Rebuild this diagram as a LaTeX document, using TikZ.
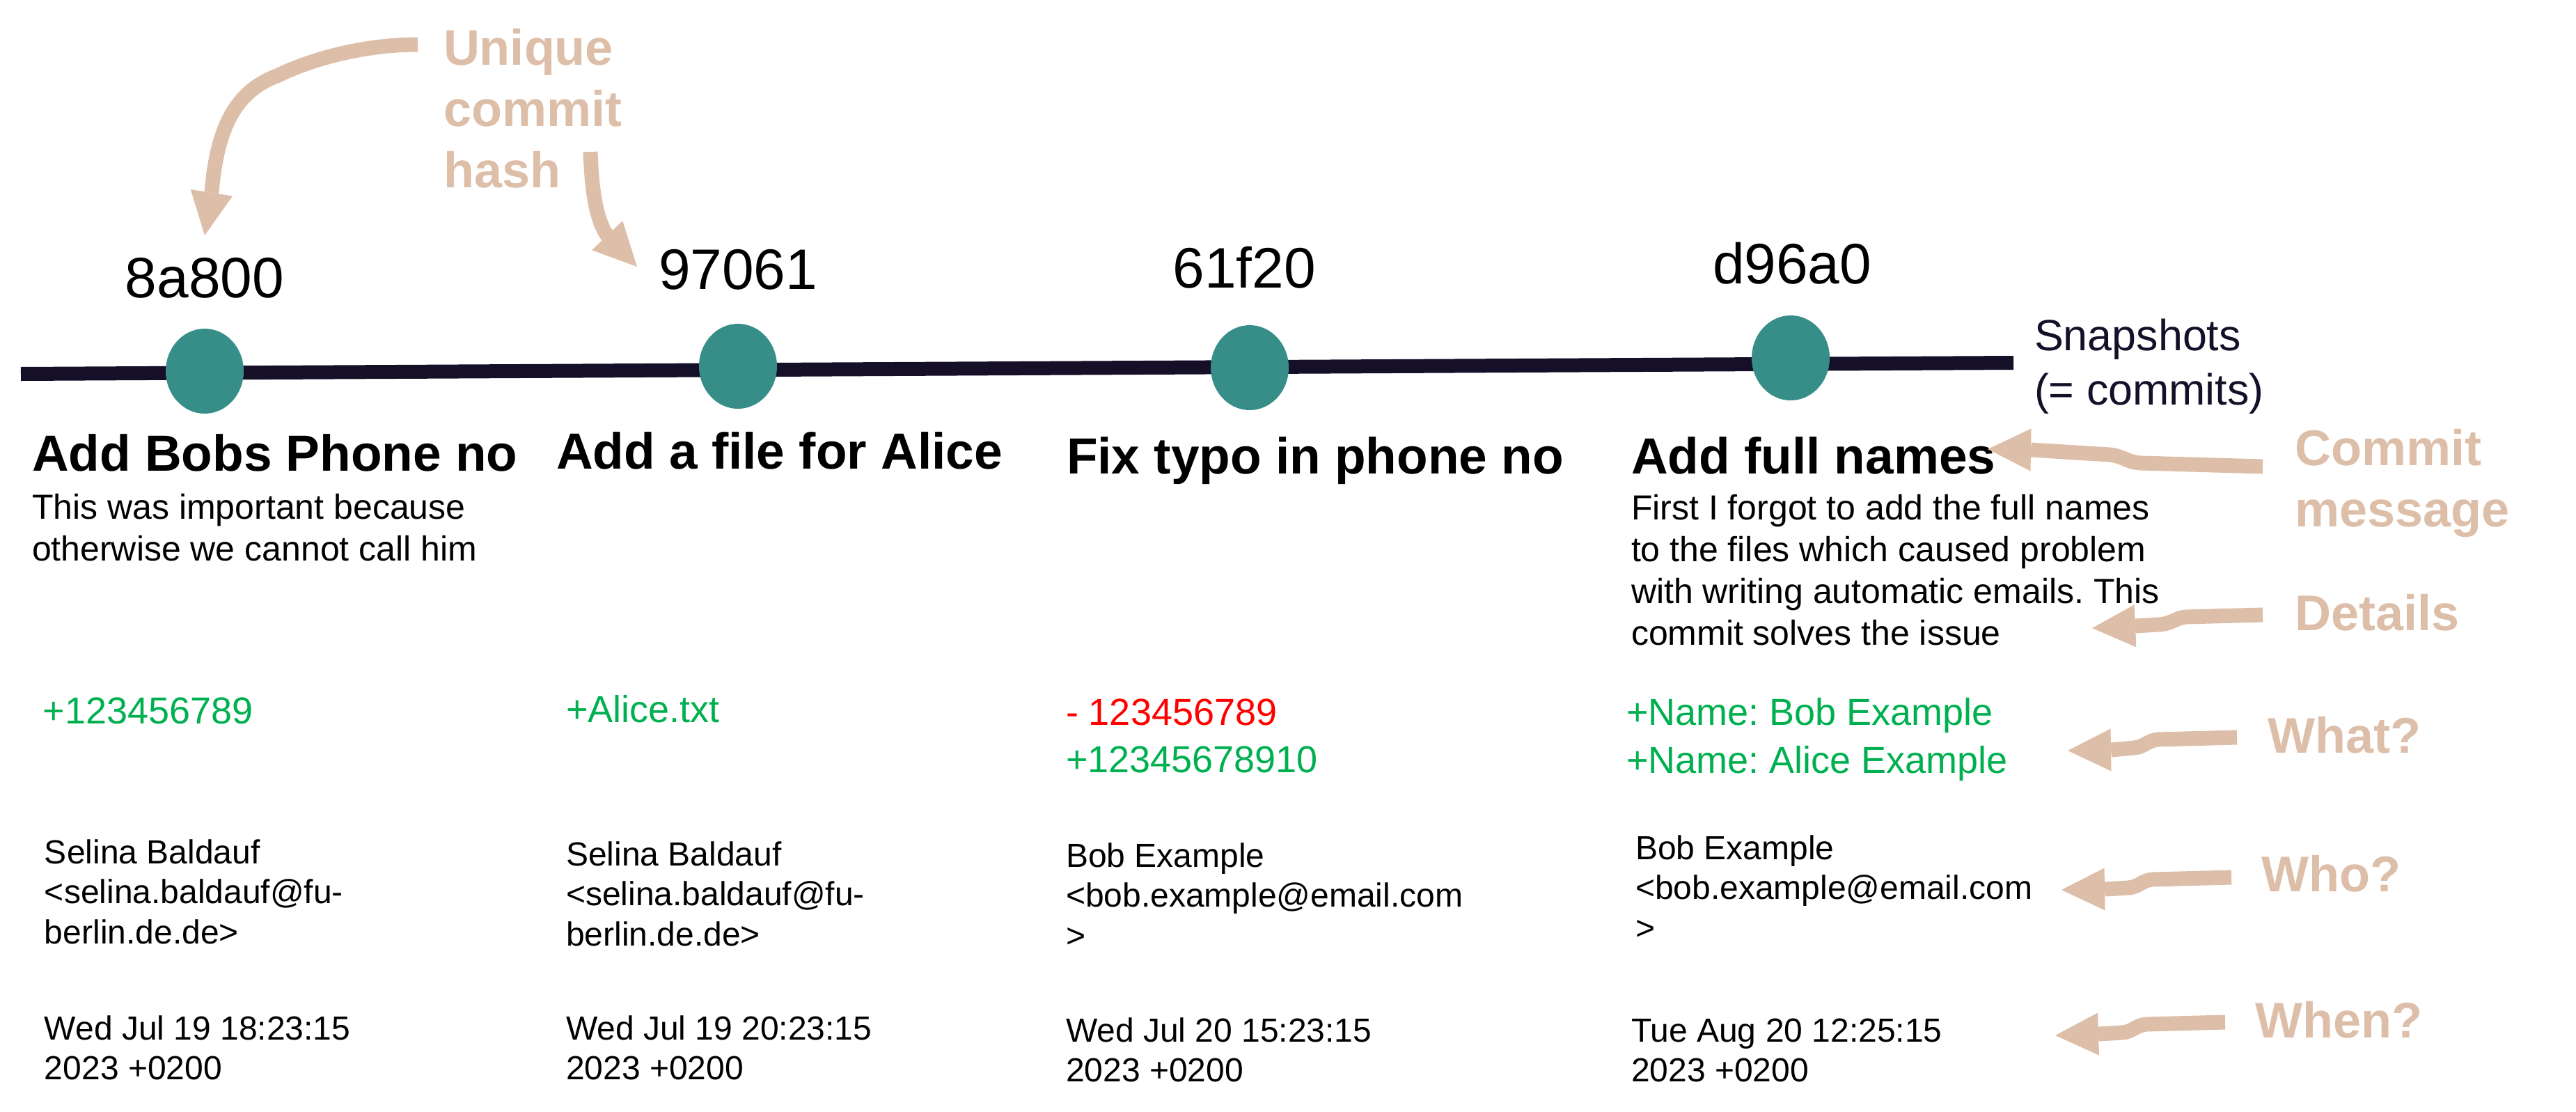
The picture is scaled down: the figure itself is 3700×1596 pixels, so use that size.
\documentclass[tikz,border=0pt]{standalone}
\usepackage{fontspec}
\setmainfont{Liberation Sans}
\usetikzlibrary{shapes.geometric,arrows.meta}
\definecolor{tanc}{RGB}{221,190,168}
\definecolor{tealc}{RGB}{55,142,137}
\definecolor{navyc}{RGB}{21,15,40}
\definecolor{addgreen}{RGB}{0,176,80}
\definecolor{delred}{RGB}{255,0,0}
\newcommand\stk[1]{\begin{tabular}[t]{@{}l@{}}#1\end{tabular}}
\frenchspacing
\begin{document}
\frenchspacing
\begin{tikzpicture}[x=0.25pt,y=-0.25pt,
  txt/.style={anchor=base west,inner sep=0pt,outer sep=0pt},
  hashlbl/.style={anchor=base,inner sep=0pt,font=\fontsize{20.5}{24}\selectfont},
  title/.style={txt,font=\bfseries\fontsize{18.25}{22}\selectfont},
  body/.style={txt,font=\fontsize{12.5}{15}\selectfont},
  diffadd/.style={txt,text=addgreen,font=\fontsize{13.5}{17.25}\selectfont},
  diffdel/.style={txt,text=delred,font=\fontsize{13.5}{17.25}\selectfont},
  meta/.style={txt,font=\fontsize{12}{14.4}\selectfont},
  note/.style={txt,text=tanc,font=\bfseries\fontsize{18}{22}\selectfont},
  dot/.style={ellipse,fill=tealc,minimum width=28pt,minimum height=30.5pt,inner sep=0pt},
  timeline/.style={draw=navyc,line width=5pt},
  pointer/.style={draw=tanc,line width=5.25pt,-{Triangle[length=15.5pt,width=15.25pt,line width=0pt]}},
]
\useasboundingbox (0,0) rectangle (3700,1596);

% timeline
\coordinate (tlStart) at (30,537);
\coordinate (tlEnd) at (2892,521);
\draw[timeline] (tlStart) -- (tlEnd);
\node[dot] (c1) at (294,533) {};
\node[dot] (c2) at (1060,526) {};
\node[dot] (c3) at (1795,528) {};
\node[dot] (c4) at (2572,514) {};

% hashes
\node[hashlbl] (h1) at (294,427) {8a800};
\node[hashlbl] (h2) at (1060,415) {97061};
\node[hashlbl] (h3) at (1787,413) {61f20};
\node[hashlbl] (h4) at (2574,407) {d96a0};

\node[txt,text=navyc,font=\fontsize{15.7}{19.5}\selectfont] (snap) at (2922,503) {\stk{Snapshots\\(= commits)}};

% column 1
\node[title] (t1) at (46,676) {Add Bobs Phone no};
\node[body] (b1) at (46,745) {\stk{This was important because\\otherwise we cannot call him}};
\node[diffadd] (d1) at (62,1039) {+123456789};
\node[meta] (a1) at (64,1240) {\stk{Selina Baldauf\\<selina.baldauf@fu-\\berlin.de.de>}};
\node[meta] (w1) at (64,1493) {\stk{Wed Jul 19 18:23:15\\2023 +0200}};

% column 2
\node[title] (t2) at (799,673) {Add a file for Alice};
\node[diffadd] (d2) at (813,1037) {+Alice.txt};
\node[meta] (a2) at (813,1243) {\stk{Selina Baldauf\\<selina.baldauf@fu-\\berlin.de.de>}};
\node[meta] (w2) at (813,1493) {\stk{Wed Jul 19 20:23:15\\2023 +0200}};

% column 3
\node[title] (t3) at (1532,680) {Fix typo in phone no};
\node[diffdel] (d3a) at (1531,1041) {- 123456789};
\node[diffadd] (d3b) at (1531,1109) {+12345678910};
\node[meta] (a3) at (1531,1245) {\stk{Bob Example\\<bob.example@email.com\\>}};
\node[meta] (w3) at (1531,1496) {\stk{Wed Jul 20 15:23:15\\2023 +0200}};

% column 4
\node[title] (t4) at (2343,680) {Add full names};
\node[body] (b4) at (2343,746) {\stk{First I forgot to add the full names\\to the files which caused problem\\with writing automatic emails. This\\commit solves the issue}};
\node[diffadd] (d4) at (2336,1041) {\stk{+Name: Bob Example\\+Name: Alice Example}};
\node[meta] (a4) at (2349,1234) {\stk{Bob Example\\<bob.example@email.com\\>}};
\node[meta] (w4) at (2343,1496) {\stk{Tue Aug 20 12:25:15\\2023 +0200}};

% annotation labels
\node[note] (lhash) at (637,93) {\stk{Unique\\commit\\hash}};
\node[note] (lmsg) at (3296,668) {\stk{Commit\\message}};
\node[note] (ldet) at (3296,905) {Details};
\node[note] (lwhat) at (3257,1081) {What?};
\node[note] (lwho) at (3248,1280) {Who?};
\node[note] (lwhen) at (3239,1490) {When?};

% annotation arrows
\coordinate (hashTailA) at (600,64);
\coordinate (hashTipA) at (294,338);
\coordinate (hashTailB) at (848,218);
\coordinate (hashTipB) at (915,383);
\draw[pointer] (hashTailA) .. controls (520,64) and (445,86) .. (400,108)
  .. controls (340,130) and (312,180) .. (304,276) -- (hashTipA);
\draw[pointer] (hashTailB) .. controls (850,280) and (858,318) .. (872,338) -- (hashTipB);

\coordinate (msgTail) at (3250,670);
\coordinate (msgTip) at (2855,645);
\draw[pointer] (msgTail) -- (3075,665) .. controls (3055,664) and (3050,655) .. (3030,653)
  -- (2917,646) -- (msgTip);

\coordinate (detTail) at (3250,883);
\coordinate (detTip) at (3005,902);
\draw[pointer] (detTail) -- (3140,886) .. controls (3125,887) and (3120,896) .. (3100,897)
  -- (3067,899) -- (detTip);

\coordinate (whatTail) at (3213,1059);
\coordinate (whatTip) at (2970,1078);
\draw[pointer] (whatTail) -- (3100,1062) .. controls (3085,1063) and (3080,1073) .. (3065,1074)
  -- (3032,1077) -- (whatTip);

\coordinate (whoTail) at (3205,1260);
\coordinate (whoTip) at (2961,1278);
\draw[pointer] (whoTail) -- (3092,1263) .. controls (3077,1264) and (3072,1274) .. (3057,1275)
  -- (3023,1277) -- (whoTip);

\coordinate (whenTail) at (3196,1468);
\coordinate (whenTip) at (2952,1487);
\draw[pointer] (whenTail) -- (3083,1471) .. controls (3068,1472) and (3063,1482) .. (3048,1483)
  -- (3014,1485) -- (whenTip);
\end{tikzpicture}
\end{document}
